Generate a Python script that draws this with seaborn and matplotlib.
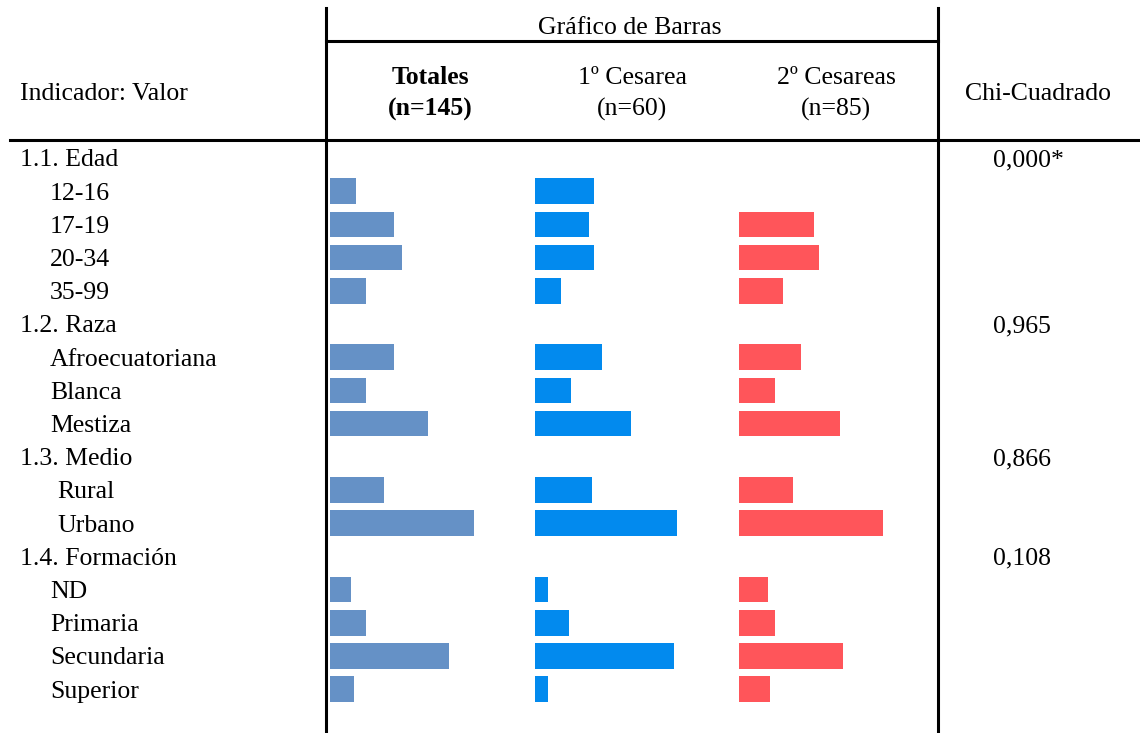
import numpy as np
import pandas as pd
import matplotlib.pyplot as plt
import seaborn as sns

########################################################################################################
# data (bar lengths in % of each group)
sections = ['1.1. Edad', '1.2. Raza', '1.3. Medio', '1.4. Formación']
chi_values = ['0,000*', '0,965', '0,866', '0,108']
edad = ['12-16', '17-19', '20-34', '35-99']
raza = ['Afroecuatoriana', 'Blanca', 'Mestiza']
medio = ['Rural', 'Urbano']
formacion = ['ND', 'Primaria', 'Secundaria', 'Superior']

totales = [13.2, 32.3, 36.3, 18.1, 32.3, 18.1, 49.3, 27.2, 72.5, 10.6, 18.1, 59.7, 12.0]
cesarea_1 = [29.7, 27.2, 29.7, 13.2, 33.8, 18.1, 48.1, 28.8, 71.3, 6.6, 17.2, 69.7, 6.6]
cesarea_2 = [0.0, 37.9, 40.4, 22.2, 31.3, 18.1, 50.6, 27.2, 72.6, 14.7, 18.1, 52.2, 15.7]

col_titles = ['Totales\n(n=145)', '1º Cesarea\n(n=60)', '2º Cesareas\n(n=85)']
col_colors = ['#6591c6', '#028aee', '#ff555a']

########################################################################################################
# preprocessing
groups = [edad, raza, medio, formacion]
order = []
for s, g in zip(sections, groups):
    order.append(s)
    order += g
items = [x for g in groups for x in g]
df = pd.DataFrame({'item': items, 'Totales': totales, '1c': cesarea_1, '2c': cesarea_2})

########################################################################################################
# plotting
W, H = 1140, 733
plt.rcParams['font.family'] = ['Liberation Serif', 'DejaVu Serif']
fig = plt.figure(figsize=(W / 100, H / 100), dpi=100)

row0, pitch = 158, 33.2
fs = 18.5
base = 8.5  # baseline offset from row centre (px)

# bar columns
x_starts = [330, 535, 739]
bar_w = 199
for col, x0, c in zip(['Totales', '1c', '2c'], x_starts, col_colors):
    ax = fig.add_axes([x0 / W, 0, bar_w / W, 1])
    sns.barplot(data=df, x=col, y='item', order=order, color=c, width=0.77,
                linewidth=0, saturation=1, ax=ax)
    ax.set_xlim(0, 100)
    ax.set_ylim((H - row0) / pitch, -row0 / pitch)
    ax.axis('off')

# table overlay
ov = fig.add_axes([0, 0, 1, 1], zorder=5)
ov.set_xlim(0, W)
ov.set_ylim(H, 0)
ov.axis('off')
ov.patch.set_alpha(0)

lw = 2.2
ov.plot([326, 326], [8, H], color='black', lw=lw)
ov.plot([938, 938], [8, H], color='black', lw=lw)
ov.plot([326, 938], [41, 41], color='black', lw=lw)
ov.plot([10, W], [140, 140], color='black', lw=lw)

ov.text(630, 26 + base, 'Gráfico de Barras', ha='center', va='baseline', fontsize=fs)
ov.text(20, 92 + base, 'Indicador: Valor', ha='left', va='baseline', fontsize=fs)
ov.text(1038, 92 + base, 'Chi-Cuadrado', ha='center', va='baseline', fontsize=fs)
for t, xc in zip(col_titles, [430, 632, 836]):
    top, bot = t.split('\n')
    w = 'bold' if top == 'Totales' else 'normal'
    ov.text(xc, 75 + base, top, ha='center', va='baseline', fontsize=fs, fontweight=w)
    ov.text(xc, 107 + base, bot, ha='center', va='baseline', fontsize=fs, fontweight=w)

i = 0
for s, g, chi in zip(sections, groups, chi_values):
    y = row0 + pitch * i + base
    ov.text(20, y, s, ha='left', va='baseline', fontsize=fs)
    ov.text(993, y, chi, ha='left', va='baseline', fontsize=fs)
    i += 1
    for item in g:
        y = row0 + pitch * i + base
        xi = 57 if g is medio else 50
        ov.text(xi, y, item, ha='left', va='baseline', fontsize=fs)
        i += 1

fig.savefig('out.png', dpi=100)
